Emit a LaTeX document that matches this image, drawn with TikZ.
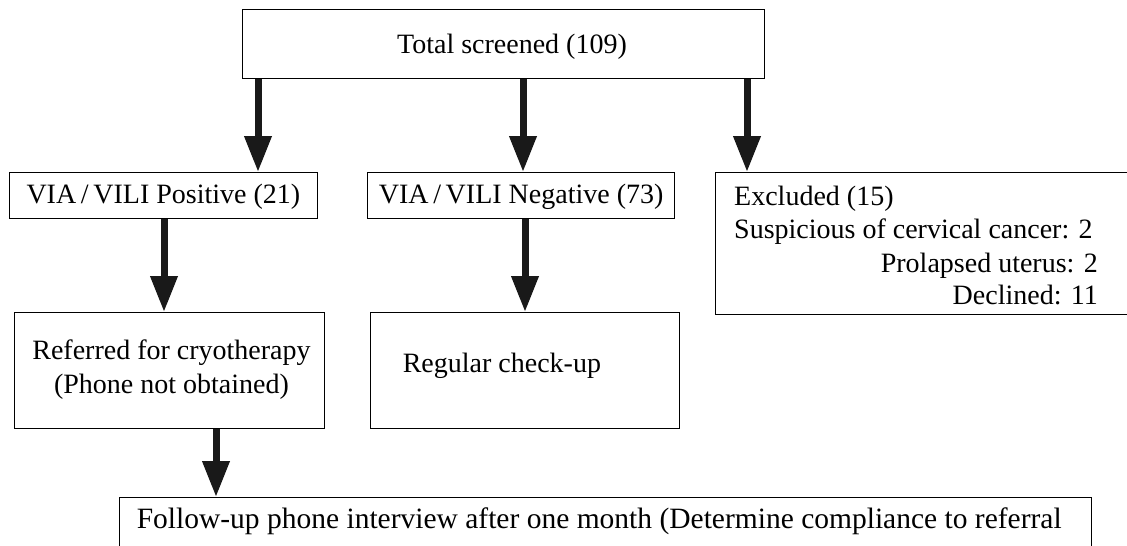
\documentclass[tikz,border=0pt]{standalone}
\usepackage{fontspec}
\setmainfont{Liberation Serif}
\usetikzlibrary{arrows.meta}
\begin{document}
\begin{tikzpicture}[x=1pt,y=1pt,
  box/.style={draw=black,line width=1.3pt,rectangle,inner sep=0pt,anchor=north west},
  txt/.style={inner sep=0pt,font=\fontsize{28}{33}\selectfont},
  bigtxt/.style={inner sep=0pt,font=\fontsize{29.5}{33}\selectfont},
  bigarrow/.style={draw=black!90,line width=7pt,-{Triangle[width=26pt,length=36pt]}}]
\useasboundingbox (0,0) rectangle (1127,-546);
% boxes
\node[box,minimum width=522.5pt,minimum height=69pt] (top) at (241.5,-9) {};
\node[box,minimum width=307.5pt,minimum height=46pt] (pos) at (9,-172) {};
\node[box,minimum width=307pt,minimum height=46pt] (neg) at (367,-172) {};
\node[box,minimum width=430pt,minimum height=142pt] (exc) at (715,-172) {};
\node[box,minimum width=309.5pt,minimum height=116pt] (ref) at (14,-312) {};
\node[box,minimum width=309.5pt,minimum height=116pt] (reg) at (369.5,-312) {};
\node[box,minimum width=972pt,minimum height=80pt] (fol) at (118.6,-497) {};
% texts
\node[txt,anchor=base] (ttop) at (512,-53) {Total screened (109)};
\node[txt,anchor=base] (tpos) at (pos.center |- 0,-203) {VIA\,/\,VILI Positive (21)};
\node[txt,anchor=base] (tneg) at (neg.center |- 0,-203) {VIA\,/\,VILI Negative (73)};
\node[txt,anchor=base west] (te1) at (734,-205) {Excluded (15)};
\node[txt,anchor=base west] (te2) at (734,-238) {Suspicious of cervical cancer: 2};
\node[txt,anchor=base east] (te3) at (1098,-272) {Prolapsed uterus: 2};
\node[txt,anchor=base east] (te4) at (1098,-304) {Declined: 11};
\node[txt,anchor=base] (tref1) at (171.5,-359) {Referred for cryotherapy};
\node[txt,anchor=base] (tref2) at (171.5,-393) {(Phone not obtained)};
\node[txt,anchor=base west] (treg) at (402.6,-372) {Regular check-up};
\node[bigtxt,anchor=base west] (tfol) at (136.6,-528) {Follow-up phone interview after one month (Determine compliance to referral};
% arrow columns
\coordinate (c1) at (258,0);
\coordinate (c2) at (523,0);
\coordinate (c3) at (747,0);
\coordinate (c4) at (164,0);
\coordinate (c5) at (525,0);
\coordinate (c6) at (216,0);
\draw[bigarrow] (top.south -| c1) -- (pos.north -| c1);
\draw[bigarrow] (top.south -| c2) -- (neg.north -| c2);
\draw[bigarrow] (top.south -| c3) -- (exc.north -| c3);
\draw[bigarrow] (pos.south -| c4) -- (ref.north -| c4);
\draw[bigarrow] (neg.south -| c5) -- (reg.north -| c5);
\draw[bigarrow] (ref.south -| c6) -- (fol.north -| c6);
\end{tikzpicture}
\end{document}
